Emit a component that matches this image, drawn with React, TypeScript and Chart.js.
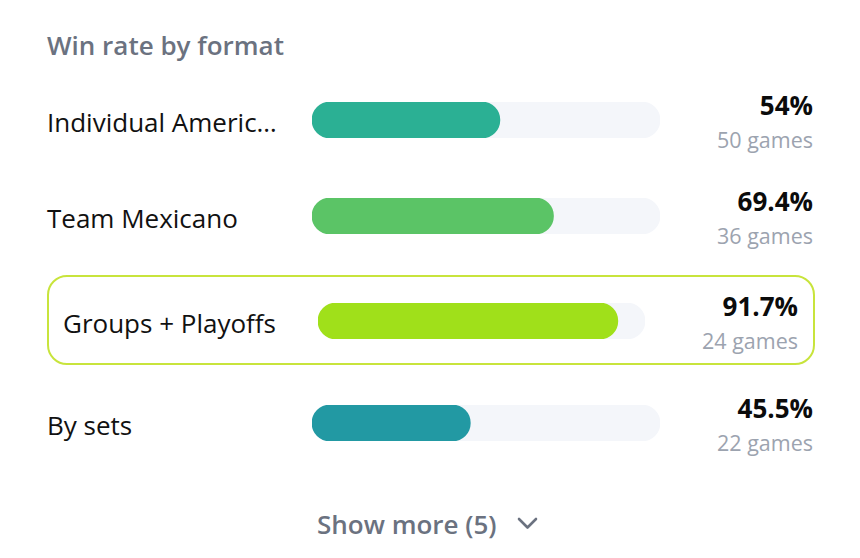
import React, { useEffect, useRef } from "react";
import { Chart, registerables } from "chart.js";

Chart.register(...registerables);

const TITLE = "Win rate by format";
const FORMATS = ["Individual Americ…", "Team Mexicano", "Groups + Playoffs", "By sets"];
const WIN_RATES = [54, 69.4, 91.7, 45.5];
const GAMES = [50, 36, 24, 22];
const HIGHLIGHT_INDEX = 2;
const MORE_COUNT = 5;
const MAX_RATE = 100;

const BAR_COLORS = ["#2bb094", "#5bc466", "#a0e01a", "#2299a3"];
const TRACK_COLOR = "#f4f6fa";
const FONT = "'Open Sans', 'Noto Sans', sans-serif";
const ASC = 0.888; // baseline offset with line-height 1 (Open Sans)

const BAR_H = 36;

function RateBar({ value, color, width }: { value: number; color: string; width: number }) {
  const ref = useRef<HTMLCanvasElement | null>(null);
  useEffect(() => {
    if (!ref.current) return;
    const chart = new Chart(ref.current, {
      type: "bar",
      data: {
        labels: [""],
        datasets: [
          {
            data: [value],
            backgroundColor: color,
            borderRadius: BAR_H / 2,
            borderSkipped: false,
            barThickness: BAR_H,
            grouped: false,
          } as any,
          {
            data: [MAX_RATE],
            backgroundColor: TRACK_COLOR,
            borderRadius: BAR_H / 2,
            borderSkipped: false,
            barThickness: BAR_H,
            grouped: false,
          } as any,
        ],
      },
      options: {
        indexAxis: "y",
        responsive: false,
        animation: false,
        devicePixelRatio: 1,
        layout: { padding: 0 },
        events: [],
        scales: {
          x: { display: false, min: 0, max: MAX_RATE },
          y: { display: false },
        },
        plugins: { legend: { display: false }, tooltip: { enabled: false } },
      },
    });
    return () => chart.destroy();
  }, [value, color, width]);
  return <canvas ref={ref} width={width} height={BAR_H} style={{ display: "block", width, height: BAR_H }} />;
}

function Text({
  x,
  right,
  baseline,
  size,
  weight = 400,
  color,
  children,
}: {
  x?: number;
  right?: number;
  baseline: number;
  size: number;
  weight?: number;
  color: string;
  children: React.ReactNode;
}) {
  const style: React.CSSProperties = {
    position: "absolute",
    top: baseline - ASC * size,
    fontSize: size,
    lineHeight: 1,
    fontWeight: weight,
    color,
    fontFamily: FONT,
    whiteSpace: "nowrap",
  };
  if (x !== undefined) style.left = x;
  if (right !== undefined) {
    style.right = right;
    style.textAlign = "right";
  }
  return <div style={style}>{children}</div>;
}

const ROW_TOPS = [102, 198, 303, 405];

export default function App() {
  return (
    <div style={{ position: "fixed", left: 0, top: 0, width: 860, height: 558, background: "#fff", overflow: "hidden" }}>
      <Text x={47} baseline={55} size={26} weight={600} color="#6b7280">
        {TITLE}
      </Text>

      <div
        style={{
          position: "absolute",
          left: 47,
          top: 275,
          width: 768,
          height: 90,
          boxSizing: "border-box",
          border: "2px solid #c8e43c",
          borderRadius: 20,
        }}
      />

      {FORMATS.map((name, i) => {
        const hl = i === HIGHLIGHT_INDEX;
        const top = ROW_TOPS[i];
        const labelX = hl ? 63 : 47;
        const barX = hl ? 318 : 312;
        const barW = hl ? 327 : 348;
        const rightEdge = hl ? 62 : 47;
        return (
          <React.Fragment key={name}>
            <Text x={labelX} baseline={top + 30} size={26} color="#111111">
              {name}
            </Text>
            <div style={{ position: "absolute", left: barX, top }}>
              <RateBar value={WIN_RATES[i]} color={BAR_COLORS[i]} width={barW} />
            </div>
            <Text right={rightEdge} baseline={top + 13} size={26} weight={700} color="#0b0b0b">
              {`${WIN_RATES[i]}%`}
            </Text>
            <Text right={rightEdge} baseline={top + 46} size={21.5} color="#9ca3af">
              {`${GAMES[i]} games`}
            </Text>
          </React.Fragment>
        );
      })}

      <Text x={317} baseline={534} size={26} weight={600} color="#6b7280">
        {`Show more (${MORE_COUNT})`}
      </Text>
      <svg
        style={{ position: "absolute", left: 516, top: 514 }}
        width={24}
        height={18}
        viewBox="0 0 24 18"
      >
        <polyline points="3,5 11.5,13.5 20,5" fill="none" stroke="#6b7280" strokeWidth={2.6} strokeLinecap="round" strokeLinejoin="round" />
      </svg>
    </div>
  );
}
